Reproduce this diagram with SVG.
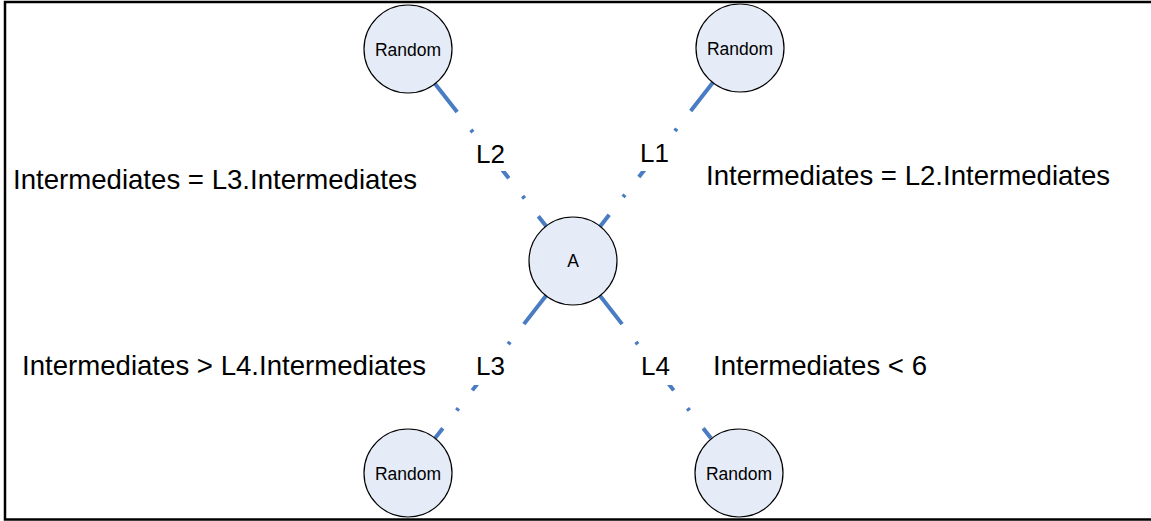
<svg xmlns="http://www.w3.org/2000/svg" width="1151" height="521" viewBox="0 0 1151 521">
<style>
.node circle{fill:#e6ecf7;stroke:#000;stroke-width:1.2}
.node text{font-family:"Liberation Sans",Arial,sans-serif;font-size:17.5px;text-anchor:middle;fill:#000}
.conn line{stroke:#4a7cc4;stroke-width:4;stroke-dasharray:36 22.5 3 22.5;fill:none}
.lbl{font-family:"Liberation Sans",Arial,sans-serif;font-size:26px;fill:#000}
.big{font-family:"Liberation Sans",Arial,sans-serif;font-size:27.6px;fill:#000}
.mask{fill:#fff}
</style>
<rect x="5" y="2" width="1160" height="517.5" fill="#fff" stroke="#000" stroke-width="2.5"/>
<g id="connectors" class="conn">
<line x1="435" y1="83.7" x2="546" y2="226"/>
<line x1="712.9" y1="82.6" x2="600.1" y2="226.4"/>
<line x1="546" y1="295.7" x2="435" y2="438.3"/>
<line x1="600" y1="295.7" x2="711" y2="438.3"/>
</g>
<g id="labels">
<rect class="mask" x="470" y="137" width="40" height="34"/>
<rect class="mask" x="636" y="137" width="36" height="34"/>
<rect class="mask" x="470" y="351" width="42" height="34"/>
<rect class="mask" x="636" y="351" width="40" height="34"/>
<text class="lbl" x="476" y="163">L2</text>
<text class="lbl" x="640" y="162">L1</text>
<text class="lbl" x="476" y="375">L3</text>
<text class="lbl" x="641" y="375">L4</text>
<text class="big" x="13" y="189">Intermediates = L3.Intermediates</text>
<text class="big" x="706" y="185">Intermediates = L2.Intermediates</text>
<text class="big" x="22" y="375">Intermediates &gt; L4.Intermediates</text>
<text class="big" x="713" y="375">Intermediates &lt; 6</text>
</g>
<g id="node-random-tl" class="node"><circle cx="408" cy="49" r="44"/><text x="408" y="55.5">Random</text></g>
<g id="node-random-tr" class="node"><circle cx="740" cy="48" r="44"/><text x="740" y="54.5">Random</text></g>
<g id="node-a" class="node"><circle cx="573" cy="261" r="44"/><text x="573" y="267">A</text></g>
<g id="node-random-bl" class="node"><circle cx="408" cy="473" r="44"/><text x="408" y="479.5">Random</text></g>
<g id="node-random-br" class="node"><circle cx="739" cy="473" r="44"/><text x="739" y="479.5">Random</text></g>
</svg>
